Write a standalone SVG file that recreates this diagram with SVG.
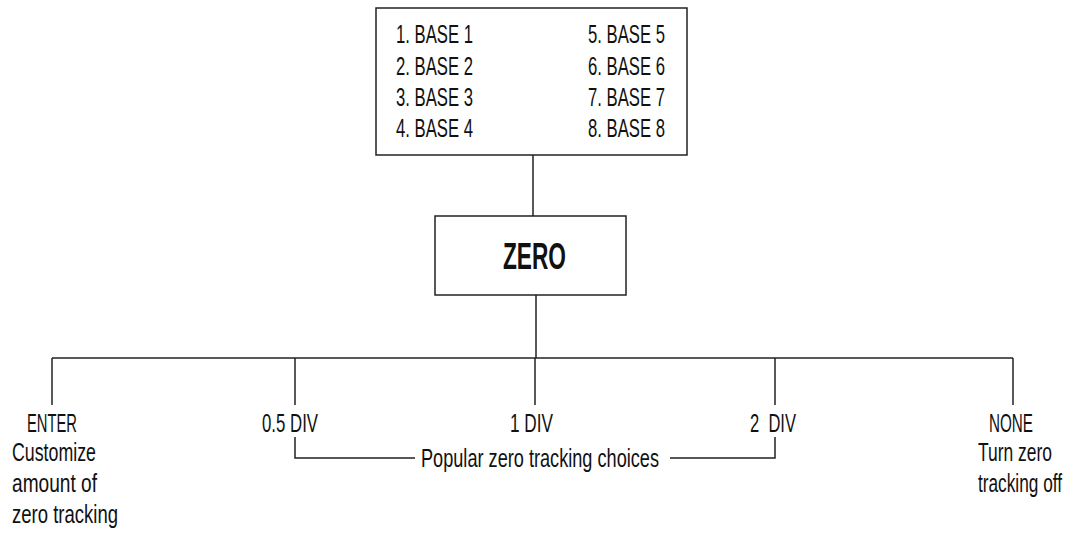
<svg xmlns="http://www.w3.org/2000/svg" width="1079" height="533" viewBox="0 0 1079 533">
<style>
.box{fill:#fff;stroke:#222;stroke-width:1.5}
.ln{fill:none;stroke:#222;stroke-width:1.5}
text{font-family:"Liberation Sans",Arial,sans-serif;font-size:25px;fill:#111}
.b{font-weight:bold;font-size:36px}
</style>
<rect width="1079" height="533" fill="#fff"/>
<g id="connectors">
<line class="ln" x1="533" y1="155" x2="533" y2="216"/>
<line class="ln" x1="536" y1="295" x2="536" y2="358"/>
<line class="ln" x1="52" y1="358" x2="1013" y2="358"/>
<line class="ln" x1="52" y1="358" x2="52" y2="405"/>
<line class="ln" x1="295" y1="358" x2="295" y2="405"/>
<line class="ln" x1="535" y1="358" x2="535" y2="405"/>
<line class="ln" x1="775" y1="358" x2="775" y2="405"/>
<line class="ln" x1="1013" y1="358" x2="1013" y2="405"/>
<polyline class="ln" points="295,437 295,458 415,458"/>
<polyline class="ln" points="670,458 775,458 775,437"/>
</g>
<g id="bases">
<rect class="box" x="376" y="8" width="311" height="147"/>
<text x="396" y="43" textLength="77" lengthAdjust="spacingAndGlyphs">1. BASE 1</text>
<text x="396" y="75" textLength="77" lengthAdjust="spacingAndGlyphs">2. BASE 2</text>
<text x="396" y="106" textLength="77" lengthAdjust="spacingAndGlyphs">3. BASE 3</text>
<text x="396" y="137" textLength="77" lengthAdjust="spacingAndGlyphs">4. BASE 4</text>
<text x="588" y="43" textLength="77" lengthAdjust="spacingAndGlyphs">5. BASE 5</text>
<text x="588" y="75" textLength="77" lengthAdjust="spacingAndGlyphs">6. BASE 6</text>
<text x="588" y="106" textLength="77" lengthAdjust="spacingAndGlyphs">7. BASE 7</text>
<text x="588" y="137" textLength="77" lengthAdjust="spacingAndGlyphs">8. BASE 8</text>
</g>
<g id="zero">
<rect class="box" x="435" y="216" width="191" height="79"/>
<text class="b" x="503" y="269" textLength="63" lengthAdjust="spacingAndGlyphs">ZERO</text>
</g>
<g id="enter">
<text x="27" y="432" textLength="50" lengthAdjust="spacingAndGlyphs">ENTER</text>
<text x="12" y="461" textLength="84" lengthAdjust="spacingAndGlyphs">Customize</text>
<text x="12" y="492" textLength="85" lengthAdjust="spacingAndGlyphs">amount of</text>
<text x="12" y="523" textLength="106" lengthAdjust="spacingAndGlyphs">zero tracking</text>
</g>
<g id="div05">
<text x="262" y="432" textLength="56" lengthAdjust="spacingAndGlyphs">0.5 DIV</text>
</g>
<g id="div1">
<text x="510" y="432" textLength="43" lengthAdjust="spacingAndGlyphs">1 DIV</text>
</g>
<g id="div2">
<text x="750" y="432" textLength="46" lengthAdjust="spacingAndGlyphs" xml:space="preserve">2  DIV</text>
</g>
<g id="none" transform="translate(978,0) scale(0.7,1)">
<text x="15.7" y="432" textLength="62.9" lengthAdjust="spacingAndGlyphs">NONE</text>
<text x="0" y="461" textLength="105.7" lengthAdjust="spacingAndGlyphs">Turn zero</text>
<text x="0" y="492" textLength="120" lengthAdjust="spacingAndGlyphs">tracking off</text>
</g>
<g id="popular">
<text x="421" y="467" textLength="238" lengthAdjust="spacingAndGlyphs">Popular zero tracking choices</text>
</g>
</svg>
